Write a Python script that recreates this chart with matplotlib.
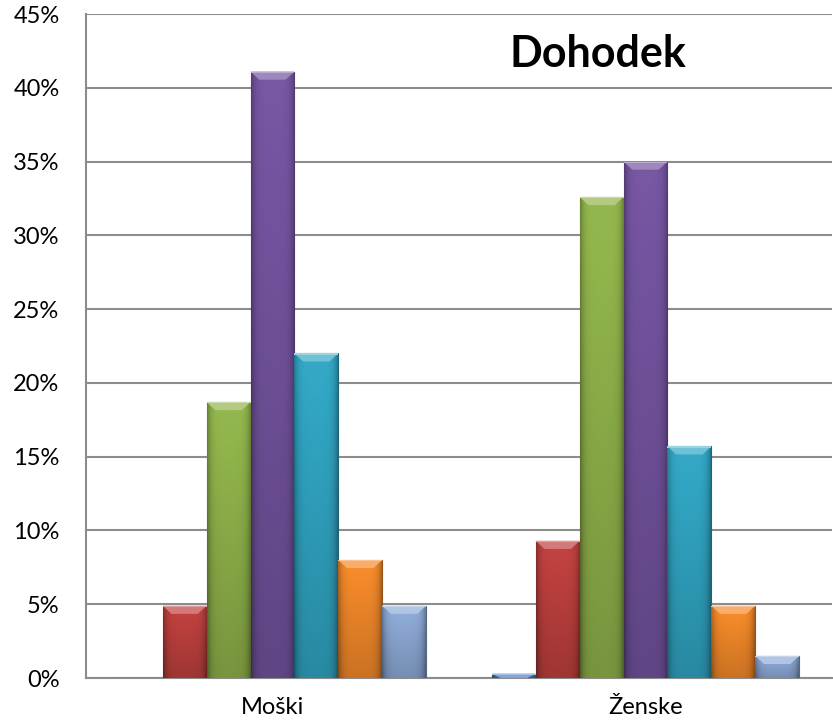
import numpy as np
import matplotlib
matplotlib.use("Agg")
import matplotlib.pyplot as plt
from matplotlib.colors import to_rgb
from matplotlib.ticker import FuncFormatter

categories = ["Moški", "Ženske"]
# seven answer groups, one bar per group in each category
values = [
    [0.0, 0.3],    # blue
    [4.9, 9.3],    # red
    [18.7, 32.6],  # green
    [41.1, 35.0],  # purple
    [22.0, 15.7],  # cyan
    [8.0, 4.9],    # orange
    [4.9, 1.5],    # light blue
]
colors = ["#4A7EC4", "#C0413F", "#91B44B", "#7454A0", "#31A6C4", "#F58A2A", "#8EABD8"]
title = "Dohodek"

plt.rcParams["font.family"] = ["Lato", "DejaVu Sans"]

fig = plt.figure(figsize=(8.33, 7.23), dpi=100)
ax = fig.add_axes([0.1032, 0.0622, 0.8956, 0.9184])

n = len(values)
gap = 1.5
width = 1.0 / (n + gap)
x = np.arange(len(categories))


def shade(col, f):
    c = np.array(to_rgb(col))
    if f >= 0:
        return c + (1 - c) * f
    return c * (1 + f)


for i, (vals, col) in enumerate(zip(values, colors)):
    pos = x - 0.5 + width * (gap / 2 + i + 0.5)
    bars = ax.bar(pos, vals, width, color=col, edgecolor=shade(col, -0.4),
                  linewidth=0.8, zorder=3)
    for b in bars:
        h = b.get_height()
        if h <= 0:
            continue
        x0 = b.get_x()
        # darker sides, darker towards the base
        t = np.linspace(-1, 1, 60)
        side = 0.03 * (1 - t ** 2) - 0.28 * np.abs(t) ** 6
        v = np.linspace(0, 1, 40)[:, None]  # 0 = top, 1 = bottom
        f = side[None, :] - 0.2 * v
        img = np.zeros(f.shape + (3,))
        for r in range(f.shape[0]):
            for c in range(f.shape[1]):
                img[r, c] = shade(col, f[r, c])
        im = ax.imshow(img, extent=[x0, x0 + width, 0, h], aspect="auto",
                       zorder=3.5, interpolation="bilinear")
        im.set_clip_path(b)
        # bevelled top edge
        bev = min(0.55, h)
        tx = [x0, x0 + width, x0 + width - width * 0.2, x0 + width * 0.2]
        ty = [h, h, h - bev, h - bev]
        ax.fill(tx, ty, color=shade(col, 0.3), lw=0, zorder=4)
        ax.fill([x0, x0 + width, x0 + width, x0], [h, h, h - 0.08, h - 0.08],
                color=shade(col, 0.5), lw=0, zorder=4)

ax.set_xlim(-0.5, len(categories) - 0.5)
ax.set_ylim(0, 45)
ax.set_yticks(np.arange(0, 46, 5))
ax.yaxis.set_major_formatter(FuncFormatter(lambda v, p: f"{v:.0f}%"))
ax.set_xticks(x)
ax.set_xticklabels(categories)
ax.tick_params(axis="both", length=0, labelsize=17, colors="black")
ax.tick_params(axis="x", pad=14)
ax.tick_params(axis="y", pad=19)

ax.grid(axis="y", color="#8C8C8C", linewidth=1.5, zorder=0)
ax.set_axisbelow(True)
for s in ["top", "right"]:
    ax.spines[s].set_visible(False)
for s in ["left", "bottom"]:
    ax.spines[s].set_color("#8C8C8C")
    ax.spines[s].set_linewidth(1.5)

ax.text(0.686, 0.94, title, transform=ax.transAxes, ha="center", va="center",
        fontsize=31, fontweight="bold", zorder=6)

fig.savefig("out.png", dpi=100)
